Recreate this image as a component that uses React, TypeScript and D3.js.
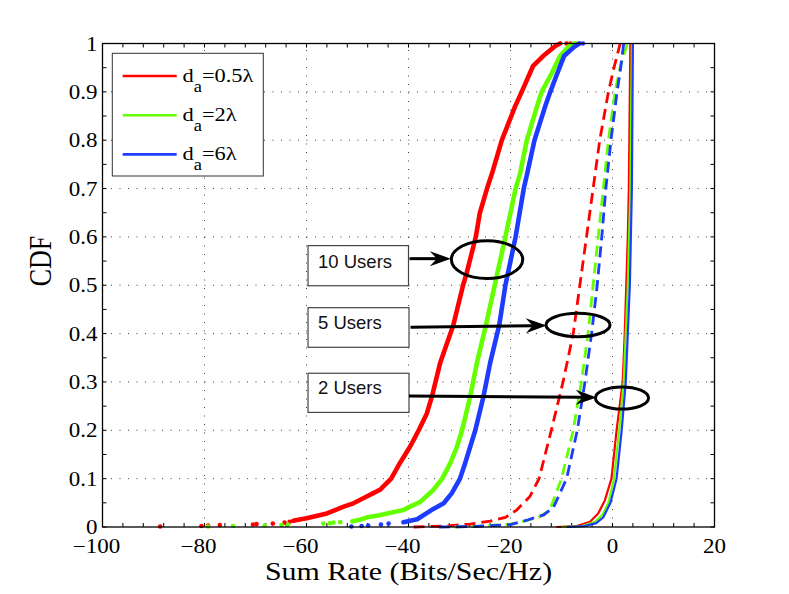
import * as React from 'react'
import * as d3 from 'd3'

type Pt = [number, number] // [sum rate, CDF]

// ---- data ----
// 10 users: plotted as dots; dense part + sparse tails
const tenRed: Pt[] = [
  [-62.6, 0.013], [-60, 0.018], [-56, 0.028], [-52.7, 0.042], [-50.8, 0.049], [-48.2, 0.063],
  [-46.9, 0.07], [-45.6, 0.077], [-43.4, 0.1], [-41.7, 0.132], [-39.7, 0.166], [-38, 0.2],
  [-36.4, 0.235], [-35.4, 0.27], [-33.8, 0.339], [-31.2, 0.418], [-29.3, 0.5], [-28.6, 0.525],
  [-26.8, 0.6], [-26, 0.65], [-24.6, 0.7], [-23.6, 0.732], [-21.7, 0.8], [-19.1, 0.87],
  [-17.8, 0.9], [-15.6, 0.953], [-13.6, 0.974], [-11.2, 0.995], [-10.3, 1],
]
const tenRedTail: Pt[] = [
  [-88.7, 0.001], [-80.6, 0.002], [-79.3, 0.003], [-77, 0.004], [-70.5, 0.005],
  [-69.8, 0.006], [-66.6, 0.007], [-64.3, 0.009], [-63.3, 0.011], [-9, 1], [-8.2, 1],
]
const tenGreen: Pt[] = [
  [-51, 0.012], [-49.5, 0.015], [-48.1, 0.02], [-46, 0.024], [-44.2, 0.028], [-41, 0.035],
  [-40.3, 0.039], [-37.7, 0.052], [-35.1, 0.077], [-33.4, 0.1], [-31.8, 0.132], [-30.5, 0.166],
  [-29.5, 0.2], [-27.9, 0.27], [-26.6, 0.339], [-24.8, 0.418], [-23.1, 0.5], [-21, 0.6],
  [-19, 0.7], [-18.1, 0.732], [-16.8, 0.8], [-14.8, 0.87], [-13.9, 0.9], [-11.9, 0.939],
  [-10.3, 0.974], [-8.5, 0.995], [-7.5, 1],
]
const tenGreenTail: Pt[] = [
  [-79.3, 0.001], [-74.4, 0.002], [-68.2, 0.003], [-64.9, 0.004], [-63.6, 0.005],
  [-56.7, 0.007], [-55.4, 0.008], [-54.7, 0.009], [-53.4, 0.01], [-7, 1],
]
const tenBlue: Pt[] = [
  [-41, 0.01], [-38.3, 0.016], [-35.5, 0.035], [-33.1, 0.049], [-31.5, 0.07], [-29.9, 0.1],
  [-28.9, 0.132], [-27.9, 0.166], [-26.9, 0.2], [-25.3, 0.27], [-24, 0.339], [-22.2, 0.418],
  [-21, 0.5], [-19, 0.6], [-17.4, 0.7], [-16.7, 0.732], [-15.3, 0.8], [-13.2, 0.87],
  [-12.2, 0.9], [-10.8, 0.939], [-9.5, 0.974], [-7.5, 0.993], [-6.5, 1],
]
const tenBlueTail: Pt[] = [
  [-51.2, 0.001], [-49.2, 0.002], [-47.9, 0.003], [-45.4, 0.005], [-43.9, 0.007], [-5.8, 1],
]

// 5 users: dashed
const fiveRed: Pt[] = [
  [-39, 0], [-33, 0.002], [-28, 0.006], [-24, 0.012], [-21, 0.02], [-18.8, 0.035],
  [-16.2, 0.063], [-14.4, 0.1], [-12, 0.2], [-9.7, 0.3], [-7.7, 0.4], [-6.4, 0.5],
  [-5.1, 0.6], [-3.8, 0.7], [-2.5, 0.8], [-0.8, 0.9], [0.3, 0.95], [1.5, 1],
]
const fiveGreen: Pt[] = [
  [-31, 0], [-26, 0.002], [-20, 0.006], [-17, 0.013], [-14.5, 0.02], [-12.3, 0.035],
  [-10, 0.1], [-7.7, 0.2], [-6.1, 0.3], [-4.8, 0.4], [-3.8, 0.5], [-2.8, 0.6],
  [-1.8, 0.7], [-0.8, 0.8], [0.5, 0.9], [1.5, 0.95], [2.9, 1],
]
const fiveBlue: Pt[] = [
  [-34, 0], [-27, 0.001], [-20, 0.005], [-16.5, 0.015], [-13.5, 0.025], [-11.6, 0.04],
  [-9, 0.1], [-6.9, 0.2], [-5.4, 0.3], [-4.1, 0.4], [-3, 0.5], [-2.1, 0.6],
  [-1.3, 0.7], [-0.3, 0.8], [0.9, 0.9], [1.6, 0.95], [2.2, 1],
]

// 2 users: solid
const twoRed: Pt[] = [
  [-11, 0], [-7, 0.002], [-4.4, 0.011], [-2.8, 0.028], [-1.5, 0.055], [-0.2, 0.1],
  [0.8, 0.2], [2, 0.3], [2.4, 0.4], [2.7, 0.5], [3, 0.6], [3.2, 0.7], [3.3, 0.8], [3.5, 1],
]
const twoGreen: Pt[] = [
  [-10, 0], [-6, 0.002], [-3.5, 0.01], [-2, 0.025], [-0.8, 0.05], [0.3, 0.1],
  [1.3, 0.2], [2.2, 0.3], [3, 0.5], [3.5, 0.7], [3.8, 1],
]
const twoBlue: Pt[] = [
  [-9, 0], [-5.5, 0.002], [-3.2, 0.008], [-1.8, 0.02], [-0.4, 0.05], [0.8, 0.1],
  [1.8, 0.2], [2.6, 0.3], [3.4, 0.5], [3.8, 0.7], [4, 1],
]

const legendLabels = ['0.5λ', '2λ', '6λ']
const seriesColors = ['#ff0000', '#66ff00', '#1e3cff']
const xTicks = [-100, -80, -60, -40, -20, 0, 20]
const yTicks = [0, 0.1, 0.2, 0.3, 0.4, 0.5, 0.6, 0.7, 0.8, 0.9, 1]
const userLabels = ['10 Users', '5 Users', '2 Users']

// annotations in data coordinates
const boxes = [
  { x0: -59.7, x1: -40, y0: 0.582, y1: 0.499, ty: 0.535 },
  { x0: -59.7, x1: -39.9, y0: 0.4536, y1: 0.3717, ty: 0.409 },
  { x0: -59.7, x1: -39.9, y0: 0.318, y1: 0.237, ty: 0.275 },
]
const arrows = [
  { x0: -39.8, y0: 0.555, x1: -31.7, y1: 0.555 },
  { x0: -39.6, y0: 0.413, x1: -12.9, y1: 0.4168 },
  { x0: -39.9, y0: 0.271, x1: -3.1, y1: 0.268 },
]
const ellipses = [
  { cx: -24.6, cy: 0.553, rx: 7.0, ry: 0.039 },
  { cx: -6.76, cy: 0.4178, rx: 6.27, ry: 0.0242 },
  { cx: 1.86, cy: 0.2668, rx: 5.2, ry: 0.0228 },
]

const W = 789
const H = 594
const M = { left: 102.5, right: 714.5, top: 43.5, bottom: 527 }
const serif = '"Liberation Serif", "Times New Roman", Times, serif'
const sans = '"Liberation Sans", Arial, Helvetica, sans-serif'

const App = () => {
  const x = d3.scaleLinear().domain([-100, 20]).range([M.left, M.right])
  const y = d3.scaleLinear().domain([0, 1]).range([M.bottom, M.top])
  const line = d3.line<Pt>().x(d => x(d[0])).y(d => y(d[1]))

  const ten = [
    { dense: tenRed, tail: tenRedTail },
    { dense: tenGreen, tail: tenGreenTail },
    { dense: tenBlue, tail: tenBlueTail },
  ]
  const five = [fiveRed, fiveGreen, fiveBlue]
  const two = [twoRed, twoGreen, twoBlue]

  const xMinor = d3.range(-100, 20.01, 4)
  const yMinor = d3.range(0, 1.001, 0.05)
  const tl = 4

  const fmt = (v: number) => (v < 0 ? '\u2212' + Math.abs(v) : String(v))

  return (
    <svg width={W} height={H} style={{ position: 'absolute', left: 0, top: 0, background: '#fff' }}>
      <rect x={0} y={0} width={W} height={H} fill="#fff" />
      {/* grid */}
      <g stroke="#444" strokeWidth={1} strokeDasharray="1,7.5">
        {xTicks.slice(1, -1).map(t => (
          <line key={'gx' + t} x1={x(t)} x2={x(t)} y1={M.bottom} y2={M.top} />
        ))}
        {yTicks.slice(1, -1).map(t => (
          <line key={'gy' + t} x1={M.left} x2={M.right} y1={y(t)} y2={y(t)} />
        ))}
      </g>
      {/* ticks */}
      <g stroke="#000" strokeWidth={1}>
        {xMinor.map(t => (
          <g key={'tx' + t}>
            <line x1={x(t)} x2={x(t)} y1={M.bottom} y2={M.bottom - tl} />
            <line x1={x(t)} x2={x(t)} y1={M.top} y2={M.top + tl} />
          </g>
        ))}
        {yMinor.map(t => (
          <g key={'ty' + t}>
            <line x1={M.left} x2={M.left + tl} y1={y(t)} y2={y(t)} />
            <line x1={M.right} x2={M.right - tl} y1={y(t)} y2={y(t)} />
          </g>
        ))}
      </g>

      {/* curves */}
      {seriesColors.map((c, i) => (
        <g key={'s' + i}>
          <path d={line(ten[i].dense) || ''} fill="none" stroke={c} strokeWidth={4.6}
            strokeLinecap="round" strokeLinejoin="round" />
          {ten[i].tail.map((p, j) => (
            <circle key={j} cx={x(p[0])} cy={y(p[1])} r={2.3} fill={c} />
          ))}
          <path d={line(five[i]) || ''} fill="none" stroke={c} strokeWidth={2.8}
            strokeDasharray="11,6" />
          <path d={line(two[i]) || ''} fill="none" stroke={c} strokeWidth={2.2} />
        </g>
      ))}

      {/* axes box */}
      <rect x={M.left} y={M.top} width={M.right - M.left} height={M.bottom - M.top}
        fill="none" stroke="#000" strokeWidth={1.3} />

      {/* tick labels */}
      <g fontFamily={serif} fontSize={20} fill="#000">
        {xTicks.map(t => (
          <text key={'lx' + t} transform={`translate(${x(t) + (t < 0 ? -6 : 0)},553) scale(1.15,1)`}
            textAnchor="middle">{fmt(t)}</text>
        ))}
        {yTicks.map(t => (
          <text key={'ly' + t} transform={`translate(97.5,${y(t) + 7}) scale(1.15,1)`}
            textAnchor="end">{String(t)}</text>
        ))}
      </g>
      <text transform={`translate(${(M.left + M.right) / 2},580) scale(1.15,1)`} textAnchor="middle"
        fontFamily={serif} fontSize={26}>Sum Rate (Bits/Sec/Hz)</text>
      <text transform="translate(51,261) rotate(-90) scale(1,1.2)" textAnchor="middle"
        fontFamily={serif} fontSize={26}>CDF</text>

      {/* legend */}
      <rect x={112.3} y={53.3} width={151} height={122.7} fill="#fff" stroke="#333" strokeWidth={1} />
      {legendLabels.map((lab, i) => {
        const ly = 76 + i * 39.2
        return (
          <g key={'lg' + i}>
            <line x1={122.7} x2={176.7} y1={ly} y2={ly} stroke={seriesColors[i]} strokeWidth={2.6} />
            <text transform={`translate(182.5,${ly + 6}) scale(1.15,1)`} fontFamily={serif} fontSize={19.5}>
              <tspan>d</tspan>
              <tspan fontSize={16} dy={10}>a</tspan>
              <tspan dy={-10}>={lab}</tspan>
            </text>
          </g>
        )
      })}

      {/* annotations */}
      {userLabels.map((lab, i) => {
        const b = boxes[i]
        const a = arrows[i]
        const e = ellipses[i]
        const ax0 = x(a.x0), ay0 = y(a.y0), ax1 = x(a.x1), ay1 = y(a.y1)
        const ang = Math.atan2(ay1 - ay0, ax1 - ax0) * 180 / Math.PI
        return (
          <g key={'an' + i}>
            <rect x={x(b.x0)} y={y(b.y0)} width={x(b.x1) - x(b.x0)} height={y(b.y1) - y(b.y0)}
              fill="#fff" stroke="#444" strokeWidth={1.2} />
            <text x={x(b.x0) + 10} y={y(b.ty)} fontFamily={sans} fontSize={18.5} fill="#111">{lab}</text>
            <g transform={`translate(${ax1},${ay1}) rotate(${ang})`}>
              <line x1={-(Math.hypot(ax1 - ax0, ay1 - ay0))} x2={-14} y1={0} y2={0}
                stroke="#000" strokeWidth={3} />
              <path d="M0,0 L-21,-7.5 L-14,0 L-21,7.5 Z" fill="#000" />
            </g>
            <ellipse cx={x(e.cx)} cy={y(e.cy)} rx={x(e.cx + e.rx) - x(e.cx)} ry={y(e.cy - e.ry) - y(e.cy)}
              fill="none" stroke="#000" strokeWidth={3} />
          </g>
        )
      })}
    </svg>
  )
}

export default App
